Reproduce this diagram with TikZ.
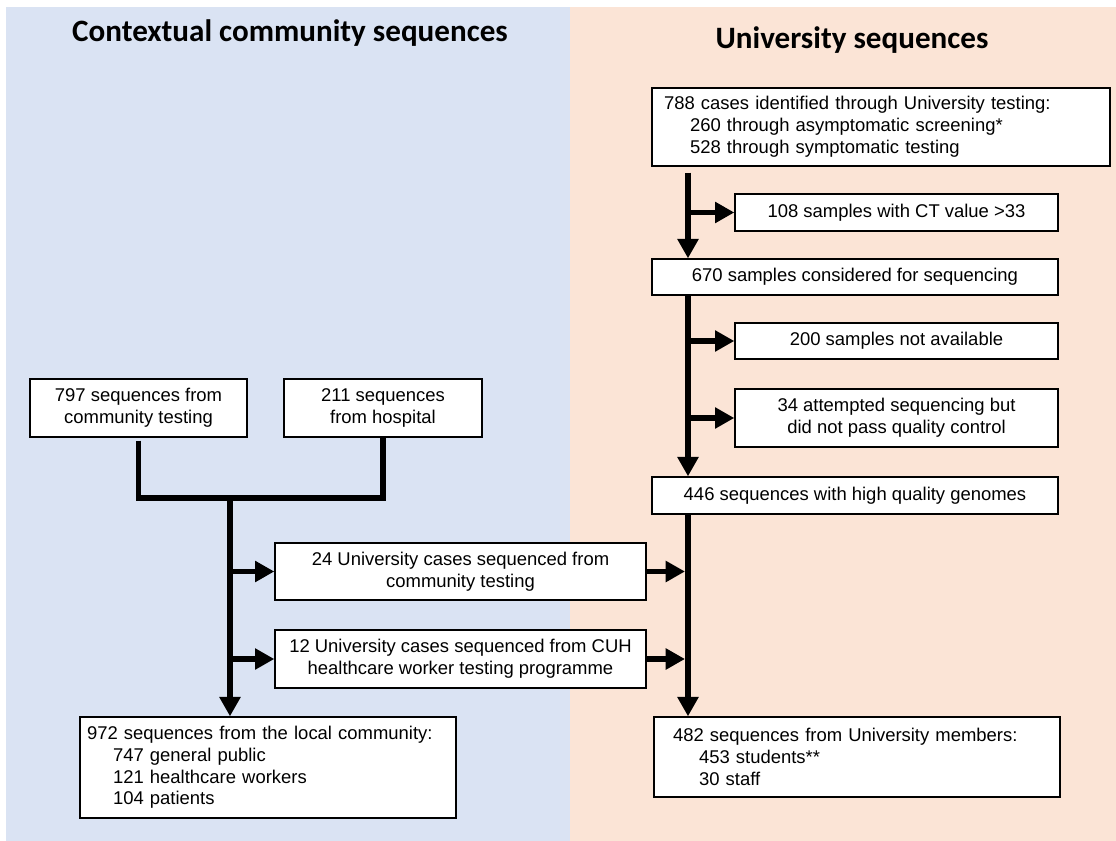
\documentclass[tikz,border=0pt]{standalone}
\usepackage{fontspec}
\setmainfont{Liberation Sans}
\newfontfamily\titlefont{Carlito}
\usepackage{tikz}
\usetikzlibrary{arrows.meta}

\definecolor{commbg}{HTML}{DAE3F3}
\definecolor{unibg}{HTML}{FBE4D6}
\newcommand{\ind}{\hspace*{0.52cm}}

\begin{document}
\begin{tikzpicture}[>={Triangle[length=11pt,width=11.5pt]},x=0.02cm,y=-0.02cm,
  box/.style={draw=black,line width=0.8pt,fill=white,align=center,inner sep=2pt,
    font=\fontsize{10.5}{12.4}\selectfont},
  listbox/.style={box,align=left,minimum height=#1},
  flow/.style={line width=3.4pt},
  heading/.style={font=\titlefont\bfseries\fontsize{17.7}{21}\selectfont}]
\useasboundingbox (0,0) rectangle (1116,841);
\fill[commbg] (6,7) rectangle (570,841);
\fill[unibg] (570,7) rectangle (1116,841);
% headings
\node[heading] (tcomm) at (290,33) {Contextual community sequences};
\node[heading] (tuni) at (852,40) {University sequences};
% university side
\node[listbox=1.56cm,text width=8.68cm,inner xsep=0.24cm] (b788) at (881,127) {788 cases identified through University testing:\\
\ind 260 through asymptomatic screening*\\
\ind 528 through symptomatic testing};
\node[box,minimum width=6.46cm,minimum height=0.74cm] (b108) at (896.5,212.5) {108 samples with CT value >33};
\node[box,minimum width=8.12cm,minimum height=0.72cm] (b670) at (855,277) {670 samples considered for sequencing};
\node[box,minimum width=6.46cm,minimum height=0.72cm] (b200) at (896.5,341) {200 samples not available};
\node[box,minimum width=6.46cm,minimum height=1.16cm] (b34) at (896.5,418) {34 attempted sequencing but\\did not pass quality control};
\node[box,minimum width=8.12cm,minimum height=0.74cm] (b446) at (855,495.5) {446 sequences with high quality genomes};
\node[listbox=1.6cm,text width=7.36cm,inner xsep=0.38cm] (b482) at (857,757) {482 sequences from University members:\\
\ind 453 students**\\
\ind 30 staff};
% community side
\node[box,minimum width=4.34cm,minimum height=1.16cm] (b797) at (138.5,408) {797 sequences from\\community testing};
\node[box,minimum width=3.96cm,minimum height=1.16cm] (b211) at (383,408) {211 sequences\\from hospital};
\node[box,minimum width=7.42cm,minimum height=1.14cm] (b24) at (460.5,571.5) {24 University cases sequenced from\\community testing};
\node[box,minimum width=7.42cm,minimum height=1.16cm] (b12) at (460.5,659) {12 University cases sequenced from CUH\\healthcare worker testing programme};
\node[listbox=2.02cm,text width=7.24cm,inner xsep=0.14cm] (b972) at (268,767.5) {972 sequences from the local community:\\
\ind 747 general public\\
\ind 121 healthcare workers\\
\ind 104 patients};
% trunks
\coordinate (rt) at (688,0);
\coordinate (lj) at (230,498);
% university flow
\draw[flow,->,shorten <=3.4pt] (b788.south -| rt) -- (b670.north -| rt);
\draw[flow,->] (rt |- b108.west) -- (b108.west);
\draw[flow,->] (b670.south -| rt) -- (b446.north -| rt);
\draw[flow,->] (rt |- b200.west) -- (b200.west);
\draw[flow,->] (rt |- b34.west) -- (b34.west);
\draw[flow,->] (b446.south -| rt) -- (b482.north -| rt);
\draw[flow,->,shorten >=1.7pt] (b24.east) -- (b24.east -| rt);
\draw[flow,->,shorten >=1.7pt] (b12.east) -- (b12.east -| rt);
% community flow
\draw[flow,shorten <=1.7pt] (b797.south) |- (lj) -| (b211.south);
\draw[flow,->] (lj) -- (b972.north -| lj);
\draw[flow,->] (lj |- b24.west) -- (b24.west);
\draw[flow,->] (lj |- b12.west) -- (b12.west);
\end{tikzpicture}
\end{document}
